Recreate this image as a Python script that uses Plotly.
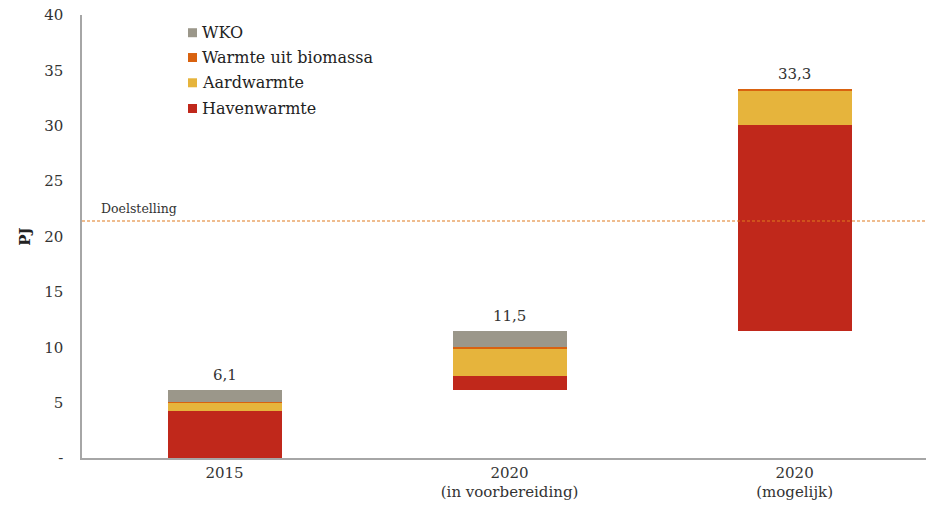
import plotly.graph_objects as go

# Categories and values (PJ)
categories = ["2015", "2020<br>(in voorbereiding)", "2020<br>(mogelijk)"]
start = [0.0, 6.1, 11.5]          # each column starts where the previous total ended
havenwarmte = [4.2, 1.3, 18.6]
aardwarmte = [0.8, 2.5, 3.0]
biomassa = [0.1, 0.1, 0.2]
wko = [1.0, 1.5, 0.0]
totals = [6.1, 11.5, 33.3]
total_labels = ["6,1", "11,5", "33,3"]
doelstelling = 21.4

y_ticks = [0, 5, 10, 15, 20, 25, 30, 35, 40]
y_ticktext = ["-", "5", "10", "15", "20", "25", "30", "35", "40"]

FONT = "DejaVu Serif"
series = [
    ("Havenwarmte", havenwarmte, "#C0281B"),
    ("Aardwarmte", aardwarmte, "#E6B43C"),
    ("Warmte uit biomassa", biomassa, "#D9620F"),
    ("WKO", wko, "#9B978A"),
]

x = list(range(len(categories)))
fig = go.Figure()
base = list(start)
for name, vals, color in series:
    fig.add_trace(go.Bar(
        x=x, y=vals, base=list(base), name=name,
        marker=dict(color=color, line=dict(width=0)),
        width=0.4, showlegend=False,
    ))
    base = [b + v for b, v in zip(base, vals)]

# Total labels above each column
for xi, t, lbl in zip(x, totals, total_labels):
    fig.add_annotation(x=xi, y=t, text=lbl, showarrow=False, yshift=15,
                       font=dict(family=FONT, size=15, color="#333333"))

# Target line
fig.add_shape(type="line", xref="paper", x0=0, x1=1, yref="y",
              y0=doelstelling, y1=doelstelling,
              line=dict(color="#E07A1F", width=1.2, dash="3px,2px"))
fig.add_annotation(xref="paper", x=0.02, y=doelstelling, yshift=13,
                   xanchor="left", text="Doelstelling", showarrow=False,
                   font=dict(family=FONT, size=12.5, color="#333333"))

# Legend (top entry first): small square swatch followed by the name
PLOT_H = 443.0   # plot height in px, used to size the swatches
PLOT_W = 844.0
sw_h = 9 / PLOT_H
legend_rows = [0.960, 0.904, 0.847, 0.789]
for (name, _, color), yy in zip(reversed(series), legend_rows):
    fig.add_shape(type="rect", xref="paper", yref="paper",
                  x0=0.1256, x1=0.1256 + 9 / PLOT_W,
                  y0=yy - sw_h / 2, y1=yy + sw_h / 2,
                  fillcolor=color, line=dict(width=0))
    fig.add_annotation(
        xref="paper", yref="paper", x=0.1395, y=yy, xanchor="left", yanchor="middle",
        text=name, showarrow=False, font=dict(family=FONT, size=16, color="#222222"),
    )

fig.update_layout(
    width=926, height=510,
    margin=dict(l=82, r=0, t=15, b=52),
    plot_bgcolor="white", paper_bgcolor="white",
    barmode="overlay",
    bargap=0,
    font=dict(family=FONT, size=15, color="#333333"),
    showlegend=False,
)
fig.update_xaxes(
    tickmode="array", tickvals=x, ticktext=categories,
    range=[-0.5, 2.461], showline=True, linecolor="#A6A6A6", linewidth=1.5,
    showgrid=False, ticks="", zeroline=False,
    tickfont=dict(family=FONT, size=15, color="#333333"),
)
fig.update_yaxes(
    range=[0, 40], tickmode="array", tickvals=y_ticks, ticktext=y_ticktext,
    showline=True, linecolor="#A6A6A6", linewidth=1.5, showgrid=False,
    zeroline=False, ticks="", ticklabelstandoff=14,
    tickfont=dict(family=FONT, size=15, color="#333333"),
    title=dict(text="<b>PJ</b>", font=dict(family=FONT, size=15, color="#222222"),
               standoff=10),
)

fig.write_html("out.html")
